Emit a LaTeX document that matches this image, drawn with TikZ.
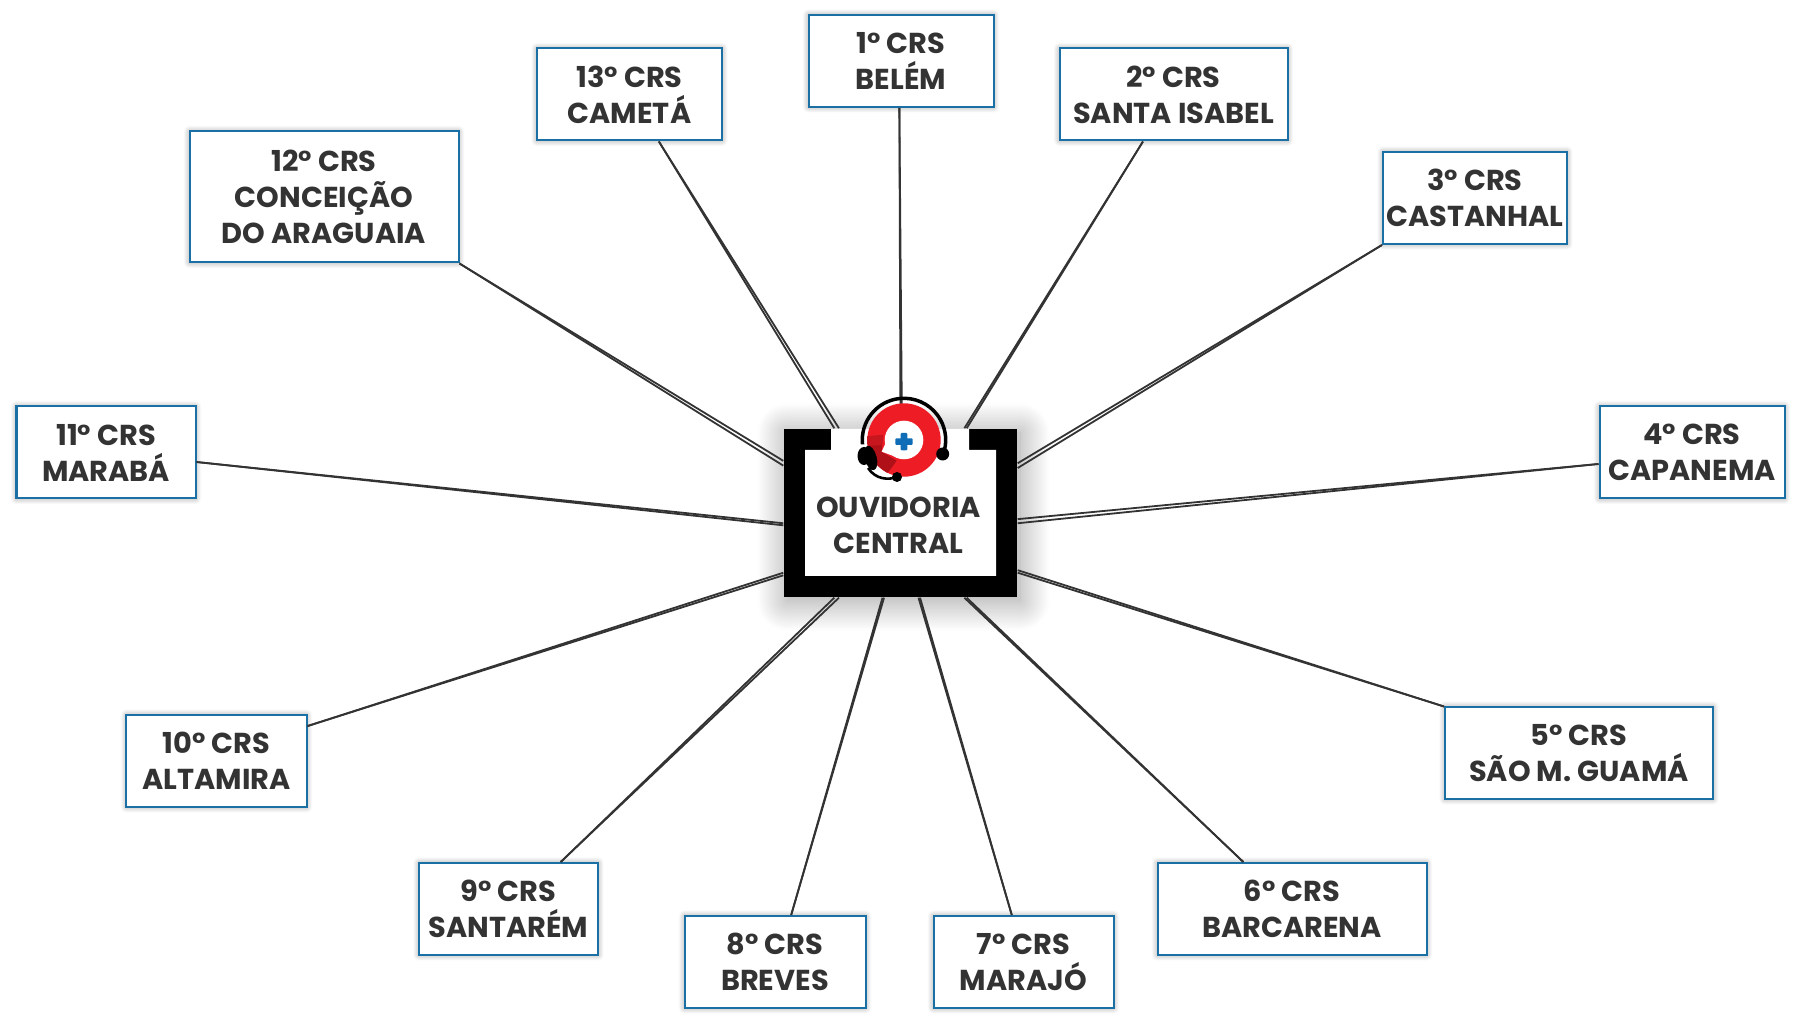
\documentclass[tikz,border=0pt]{standalone}
\usepackage{fontspec}
\setmainfont{Poppins}
\usepackage{tikz}
\usetikzlibrary{shadows.blur}

\definecolor{crsblue}{HTML}{1A70A4}
\definecolor{crstext}{HTML}{333333}
\definecolor{logored}{HTML}{EE1C25}
\definecolor{logodark}{HTML}{B01018}
\definecolor{logomid}{HTML}{C8161E}
\definecolor{logoblue}{HTML}{0F6CB6}

\tikzset{
  crstext/.style = {text = crstext,
      align = center,
      inner sep = 0pt,
      font = \fontsize{8.2}{10.25}\selectfont\bfseries},
  crsbox/.style = {rectangle,
      crstext,
      draw = crsblue,
      line width = 0.02cm,
      fill = white,
      minimum height = 0.92cm,
      blur shadow = {shadow xshift=0pt, shadow yshift=0pt, shadow blur radius=0.06cm, shadow blur steps=8, shadow opacity=40}},
  strand/.style = {draw = crstext, line width = 0.018cm},
}

\begin{document}
\begin{tikzpicture}
\useasboundingbox (0,0) rectangle (18,10.24);

% central block
  \node[rectangle,
      fill = black,
      inner sep = 0pt,
      minimum width = 2.33cm,
      minimum height = 1.68cm,
      blur shadow = {shadow xshift=0.03cm, shadow yshift=-0.04cm, shadow blur radius=0.30cm, shadow blur steps=40, shadow opacity=40}] (hub) at (9.005,5.11) {};

% top row
  \node[crsbox, minimum width = 1.85cm] (n13) at (6.295,9.295) {13° CRS\\CAMETÁ};
  \node[crsbox, minimum width = 1.85cm] (n1) at (9.01,9.63) {1° CRS\\BELÉM};
  \node[crsbox, minimum width = 2.28cm] (n2) at (11.735,9.295) {2° CRS\\SANTA ISABEL};
  \node[crsbox, minimum width = 2.69cm, minimum height = 1.31cm] (n12) at (3.24,8.27) {12° CRS\\CONCEIÇÃO\\DO ARAGUAIA};
  \node[crsbox, minimum width = 1.84cm] (n3) at (14.75,8.26) {3° CRS\\CASTANHAL};

% middle row
  \node[crsbox, minimum width = 1.79cm] (n11) at (1.06,5.715) {11° CRS\\MARABÁ};
  \node[crsbox, minimum width = 1.85cm] (n4) at (16.92,5.715) {4° CRS\\CAPANEMA};

% bottom rows
  \node[crsbox, minimum width = 1.80cm] (n10) at (2.165,2.63) {10° CRS\\ALTAMIRA};
  \node[crsbox, minimum width = 2.68cm] (n5) at (15.79,2.71) {5° CRS\\SÃO M. GUAMÁ};
  \node[crsbox, minimum width = 1.79cm] (n9) at (5.085,1.15) {9° CRS\\SANTARÉM};
  \node[crsbox, minimum width = 2.69cm] (n6) at (12.92,1.15) {6° CRS\\BARCARENA};
  \node[crsbox, minimum width = 1.81cm] (n8) at (7.75,0.62) {8° CRS\\BREVES};
  \node[crsbox, minimum width = 1.80cm] (n7) at (10.235,0.62) {7° CRS\\MARAJÓ};

% connectors, two strands each
  \foreach \crs/\from/\to in {n1/-92/90, n2/-123.4/52.9, n3/south west/22.6, n4/-173.3/-4.5,
      n5/161.2/-27, n6/136.8/-52.9, n7/104.3/-78, n8/71.7/-102, n9/42.7/-127.5,
      n10/21.4/-153, n11/-6.3/-175, n12/south east/157.4, n13/-58.3/127.5}{
    \pgfmathsetmacro\toa{\to-0.7}
    \pgfmathsetmacro\tob{\to+0.7}
    \draw[strand] (\crs.\from) -- (hub.\toa);
    \draw[strand] (\crs.\from) -- (hub.\tob);
  }

% white inner part of the block
  \fill[white] (8.05,4.48) -- (9.96,4.48) -- (9.96,5.74) -- (9.69,5.74) -- (9.69,5.95)
      -- (8.31,5.95) -- (8.31,5.74) -- (8.05,5.74) -- cycle;
  \node[crstext] (hubtext) at (8.985,4.99) {OUVIDORIA\\CENTRAL};

% headset logo
\begin{scope}[shift={(9.04,5.84)}]
  \fill[logored] (0,0) circle (0.367);
  \begin{scope}
    \clip (0,0) circle (0.367);
    \fill[logodark] (-0.40,0.033) -- (-0.21,0.05) -- (-0.223,-0.117) -- (-0.073,-0.207) -- (-0.17,-0.34) -- (-0.40,-0.34) -- cycle;
    \fill[logomid] (-0.40,0.033) -- (-0.21,0.05) -- (-0.225,-0.05) -- (-0.40,-0.06) -- cycle;
  \end{scope}
  \fill[white] (0,0) circle (0.193);
  \fill[white] (-0.223,-0.117) -- (-0.17,0) -- (-0.05,-0.18) -- cycle;
  \fill[logoblue, rounded corners=0.01cm] (-0.087,-0.05) rectangle (0.087,0.016);
  \fill[logoblue, rounded corners=0.01cm] (-0.033,-0.104) rectangle (0.033,0.07);
  % headset
  \draw[black, line width = 0.035cm] (186:0.417) arc[start angle=186, end angle=-14, radius=0.417];
  \fill[black] (0.387,-0.14) circle (0.065);
  \fill[black, rotate around={15:(-0.333,-0.18)}] (-0.333,-0.18) ellipse (0.06 and 0.125);
  \fill[black] (-0.40,-0.16) ellipse (0.065 and 0.09);
  \draw[black, line width = 0.026cm] (-0.36,-0.28) .. controls (-0.28,-0.40) and (-0.15,-0.40) .. (-0.07,-0.37);
  \fill[black] (-0.07,-0.37) circle (0.05);
\end{scope}
\end{tikzpicture}
\end{document}
